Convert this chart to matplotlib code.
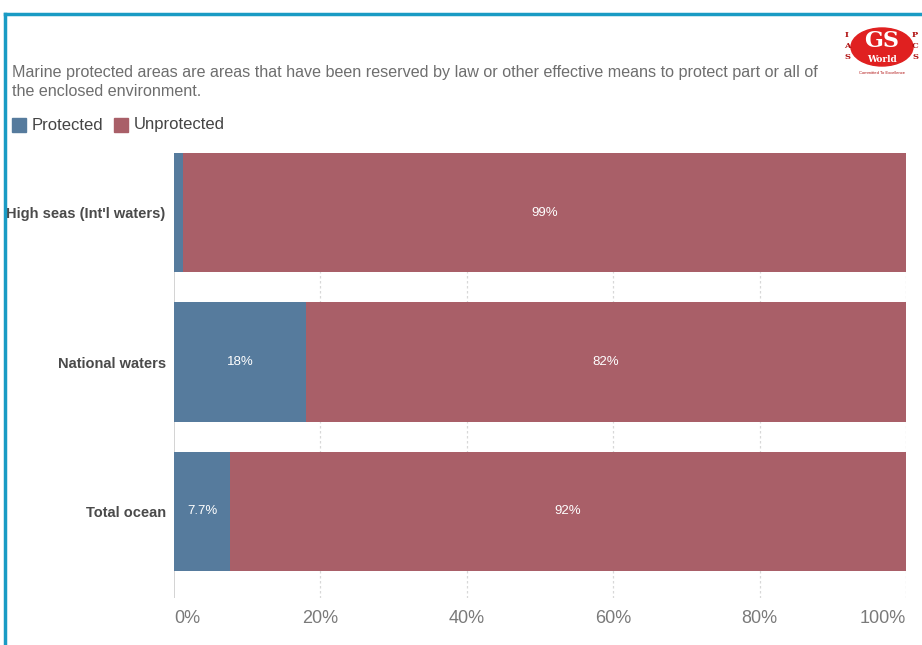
import matplotlib.pyplot as plt
from matplotlib.patches import Ellipse

plt.rcParams['font.family'] = ['Liberation Sans', 'DejaVu Sans']

categories = ["High seas (Int'l waters)", "National waters", "Total ocean"]
protected = [1.2, 18, 7.7]
unprotected = [98.8, 82, 92.3]
prot_labels = ["", "18%", "7.7%"]
unprot_labels = ["99%", "82%", "92%"]
ticks = [0, 20, 40, 60, 80, 100]
tick_labels = ["0%", "20%", "40%", "60%", "80%", "100%"]

blue = "#567b9d"
red = "#a95f68"

fig = plt.figure(figsize=(9.22, 6.45), dpi=100)
ax = fig.add_axes([174/922, 1-598/645, 732/922, (598-153)/645])

y = list(range(len(categories)))
ax.barh(y, protected, height=0.8, color=blue)
ax.barh(y, unprotected, left=protected, height=0.8, color=red)

for i in y:
    if prot_labels[i]:
        ax.text(protected[i]/2, i, prot_labels[i], color="white", fontsize=9.5,
                ha="center", va="center")
    ax.text(protected[i] + unprotected[i]/2, i, unprot_labels[i], color="white",
            fontsize=9.5, ha="center", va="center")

ax.set_xlim(0, 100)
ax.set_ylim(2.58, -0.4)
for t in ticks[1:]:
    ax.axvline(t, color="#d8d8d8", lw=0.9, ls=(0, (2, 2)), zorder=0)
ax.axvline(0, color="#cccccc", lw=1.2, zorder=0)

ax.set_yticks(y)
ax.set_yticklabels(categories, fontsize=10.5, fontweight="bold", color="#4a4a4a")
ax.set_xticks([])
for t, lab in zip(ticks, tick_labels):
    ha = "center"
    if t == 0:
        ha = "left"
    elif t == 100:
        ha = "right"
    ax.text(t, 2.58 + 0.14, lab, ha=ha, va="center", fontsize=13, color="#7a7a7a")
ax.tick_params(axis="y", length=0, pad=6)
for s in ax.spines.values():
    s.set_visible(False)

# subtitle and legend
fig.text(12/922, 1-72/645, "Marine protected areas are areas that have been reserved by law or other effective means to protect part or all of",
         fontsize=11.6, color="#6e6e6e", va="center")
fig.text(12/922, 1-91/645, "the enclosed environment.", fontsize=11.6, color="#6e6e6e", va="center")
fig.patches.append(plt.Rectangle((12/922, 1-132/645), 14/922, 14/645, color=blue,
                                 transform=fig.transFigure, figure=fig))
fig.text(32/922, 1-125/645, "Protected", fontsize=12, color="#444444", va="center")
fig.patches.append(plt.Rectangle((114/922, 1-132/645), 14/922, 14/645, color=red,
                                 transform=fig.transFigure, figure=fig))
fig.text(134/922, 1-125/645, "Unprotected", fontsize=12, color="#444444", va="center")

# frame
fig.add_artist(plt.Line2D([5/922, 1], [1-14/645, 1-14/645], color="#1a9bc4", lw=2.5,
                          transform=fig.transFigure))
fig.add_artist(plt.Line2D([5/922, 5/922], [0, 1-14/645], color="#1a9bc4", lw=2.5,
                          transform=fig.transFigure))

# logo
fig.patches.append(Ellipse((882/922, 1-47/645), 62/922, 38/645, color="#e02020",
                           transform=fig.transFigure, figure=fig))
fig.text(882/922, 1-41/645, "GS", fontsize=16, fontweight="bold", color="white",
         ha="center", va="center", family="DejaVu Serif")
fig.text(882/922, 1-59/645, "World", fontsize=6.5, fontweight="bold", color="white",
         ha="center", va="center", family="DejaVu Serif")
for k, ch in enumerate("IAS"):
    fig.text(847/922, 1-(35+11*k)/645, ch, fontsize=6, fontweight="bold",
             color="#b01010", ha="center", va="center", family="DejaVu Serif")
for k, ch in enumerate("PCS"):
    fig.text(915/922, 1-(35+11*k)/645, ch, fontsize=6, fontweight="bold",
             color="#b01010", ha="center", va="center", family="DejaVu Serif")
fig.text(882/922, 1-73/645, "Committed To Excellence", fontsize=3, color="#b01010",
         ha="center", va="center")

fig.savefig("out.png", dpi=100)
